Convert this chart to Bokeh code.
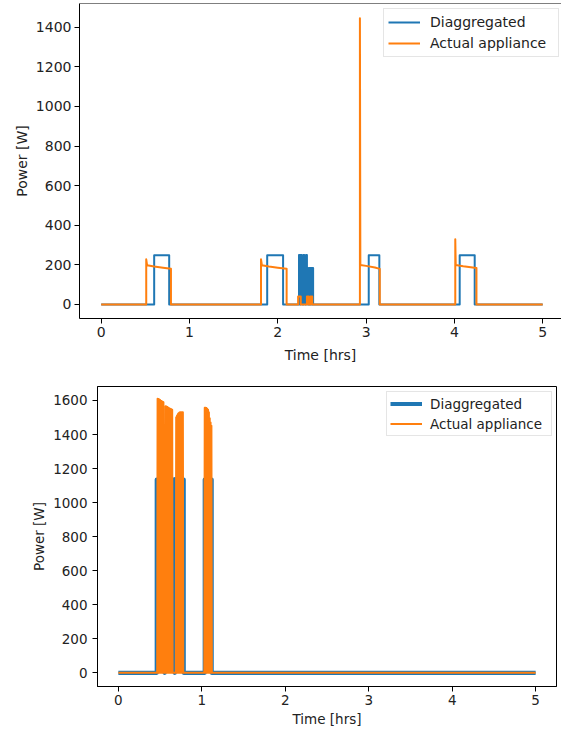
from bokeh.plotting import figure
from bokeh.models import Range1d, FixedTicker, Span
from bokeh.embed import file_html
from bokeh.resources import INLINE

BLUE = "#1f77b4"
ORANGE = "#ff7f0e"

# ---------------- data: top panel ----------------
top_xticks = [0, 1, 2, 3, 4, 5]
top_yticks = [0, 200, 400, 600, 800, 1000, 1200, 1400]

top_blue_t = [0.00, 0.60, 0.77, 1.88, 2.06, 2.24, 2.255, 2.26, 2.27, 2.28, 2.29, 2.30, 2.31,
              2.32, 2.33, 2.34, 2.35, 2.36, 2.37, 2.38, 2.39, 2.40, 3.03, 3.15, 4.06, 4.23, 5.00]
top_blue_w = [0, 249, 0, 249, 0, 250, 0, 250, 184, 0, 250, 184, 0,
              250, 184, 0, 184, 0, 184, 0, 184, 0, 249, 0, 249, 0, 0]

top_orange_t = [0.00, 0.51, 0.51, 0.52, 0.60, 0.70, 0.79, 0.79,
                1.81, 1.81, 1.82, 1.90, 2.00, 2.10, 2.10,
                2.23, 2.23, 2.26, 2.26, 2.33, 2.33, 2.35, 2.35, 2.37, 2.37, 2.39, 2.39,
                2.93, 2.93, 2.935, 3.00, 3.10, 3.155, 3.155,
                4.01, 4.01, 4.015, 4.10, 4.25, 4.25, 5.00]
top_orange_w = [0, 0, 228, 198, 192, 186, 180, 0,
                0, 228, 198, 192, 186, 180, 0,
                0, 40, 40, 0, 0, 40, 40, 0, 0, 40, 40, 0,
                0, 1445, 200, 195, 187, 180, 0,
                0, 330, 200, 193, 184, 0, 0]

# ---------------- data: bottom panel ----------------
bot_xticks = [0, 1, 2, 3, 4, 5]
bot_yticks = [0, 200, 400, 600, 800, 1000, 1200, 1400, 1600]

bot_blue_t = [0.000, 0.460, 0.553, 0.556, 0.674, 0.677, 0.783, 1.035, 1.118, 5.000]
bot_blue_w = [0, 1135, 0, 1135, 0, 1135, 0, 1135, 0, 0]

bot_orange_t = [0.000, 0.465,
                0.470, 0.475, 0.480, 0.485, 0.490, 0.495, 0.500, 0.505,
                0.510, 0.515, 0.520, 0.525, 0.530, 0.535, 0.540, 0.545,
                0.560, 0.565, 0.570, 0.575, 0.580, 0.585, 0.590, 0.595, 0.600,
                0.605, 0.610, 0.615, 0.620, 0.625, 0.630, 0.635, 0.640, 0.645, 0.650,
                0.688, 0.693, 0.698, 0.703, 0.708, 0.713, 0.718, 0.723, 0.728,
                0.733, 0.738, 0.743, 0.748, 0.753, 0.758, 0.763, 0.768, 0.773, 0.778,
                1.030, 1.035, 1.040, 1.045, 1.050, 1.055, 1.060, 1.065, 1.070,
                1.075, 1.080, 1.085, 1.090, 1.095, 1.100, 1.105, 1.110, 1.115, 1.120,
                5.000]
bot_orange_w = [0, 0,
                1610, 0, 1608, 0, 1605, 0, 1602, 0,
                1598, 0, 1595, 0, 1592, 0, 1590, 0,
                0, 1566, 0, 1564, 0, 1561, 0, 1558, 0,
                1556, 0, 1553, 0, 1550, 0, 1548, 0, 1545, 0,
                0, 1502, 0, 1512, 0, 1521, 0, 1526, 0,
                1529, 0, 1531, 0, 1531, 0, 1531, 0, 1531, 0,
                0, 1557, 0, 1557, 0, 1556, 0, 1552, 0,
                1545, 0, 1530, 0, 1495, 0, 1470, 0, 1452, 0,
                0]


def style(p, fs, xticks, yticks, xlab_standoff, ylab_standoff):
    p.xaxis.ticker = FixedTicker(ticks=xticks)
    p.yaxis.ticker = FixedTicker(ticks=yticks)
    for ax in p.axis:
        ax.major_tick_in = 0
        ax.major_tick_out = 5
        ax.minor_tick_line_color = None
        ax.major_tick_line_color = "black"
        ax.axis_line_color = "black"
        ax.major_label_text_font = "DejaVu Sans"
        ax.major_label_text_font_size = fs
        ax.major_label_text_color = "#222222"
        ax.axis_label_text_font = "DejaVu Sans"
        ax.axis_label_text_font_size = fs
        ax.axis_label_text_font_style = "normal"
        ax.axis_label_text_color = "#222222"
        ax.major_label_standoff = 3
        ax.axis_label_standoff = 3
    p.xaxis.axis_label_standoff = xlab_standoff
    p.yaxis.major_label_standoff = ylab_standoff
    p.grid.visible = False
    p.outline_line_color = "black"
    p.outline_line_width = 1


def style_legend(lg, fs, pad, gh, sp, gw, stand, lw, loc):
    lg.location = loc
    lg.padding = pad
    lg.spacing = sp
    lg.glyph_width = gw
    lg.glyph_height = gh
    lg.label_height = gh
    lg.label_standoff = stand
    lg.label_width = lw
    lg.label_text_font = "DejaVu Sans"
    lg.label_text_font_size = fs
    lg.label_text_color = "#222222"
    lg.border_line_color = "#cccccc"
    lg.background_fill_alpha = 0.8


# ---------------- top figure ----------------
top_yr = Range1d(-70.7, 1520)
p1 = figure(width=561, height=370, output_backend="svg", toolbar_location=None,
            x_range=Range1d(-0.2457, 5.213), y_range=top_yr,
            min_border_left=79, min_border_right=0, min_border_top=3, min_border_bottom=52)
p1.step(top_blue_t, top_blue_w, mode="after", line_width=2, color=BLUE,
        line_join="round", legend_label="Diaggregated")
p1.line(top_orange_t, top_orange_w, line_width=2, color=ORANGE,
        line_join="round", legend_label="Actual appliance")
p1.xaxis.axis_label = "Time [hrs]"
p1.yaxis.axis_label = "Power [W]"
style(p1, "14px", top_xticks, top_yticks, 7, 3)
style_legend(p1.legend[0], "14px", 4, 18, 3, 32, 10, 124, (304, 261))
# the reference crops the right spine away: keep only the top spine
p1.outline_line_color = None
p1.add_layout(Span(location=top_yr.end, dimension="width", line_color="black", line_width=1))

# ---------------- bottom figure ----------------
p2 = figure(width=561, height=362, output_backend="svg", toolbar_location=None,
            x_range=Range1d(-0.25, 5.25), y_range=Range1d(-80.5, 1682),
            min_border_left=97, min_border_right=5, min_border_top=16, min_border_bottom=46)
p2.step(bot_blue_t, bot_blue_w, mode="after", line_width=4.2, color=BLUE,
        line_join="round", legend_label="Diaggregated")
p2.line(bot_orange_t, bot_orange_w, line_width=2, color=ORANGE,
        line_join="round", legend_label="Actual appliance")
p2.xaxis.axis_label = "Time [hrs]"
p2.yaxis.axis_label = "Power [W]"
style(p2, "13.5px", bot_xticks, bot_yticks, 3, 5)
style_legend(p2.legend[0], "13.5px", 3, 17, 3, 32, 8, 118, (289, 250))

open("out.html", "w").write(file_html([p1, p2], INLINE))
